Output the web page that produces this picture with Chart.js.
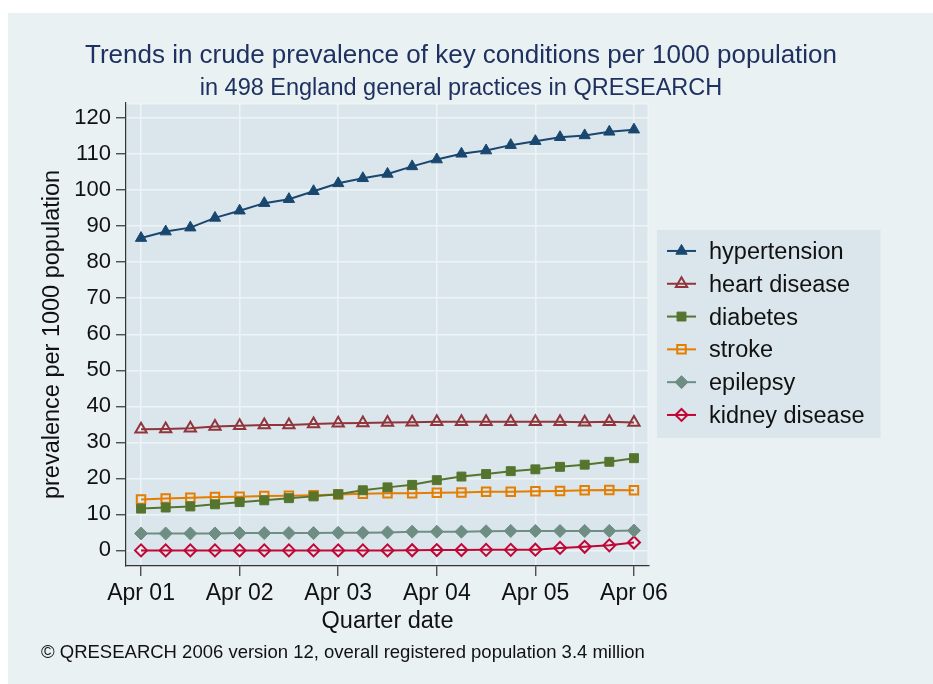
<!DOCTYPE html>
<html>
<head>
<meta charset="utf-8">
<title>Trends in crude prevalence of key conditions</title>
<script src="https://cdn.jsdelivr.net/npm/chart.js@4.4.1/dist/chart.umd.min.js"></script>
<style>
html,body{margin:0;padding:0;background:#ffffff;overflow:hidden;}
canvas{display:block;}
</style>
</head>
<body>
<canvas id="chart" width="933" height="684"></canvas>
<script>
// ---- data ----
const quarters = ['Apr 01','Jul 01','Oct 01','Jan 02','Apr 02','Jul 02','Oct 02','Jan 03','Apr 03','Jul 03','Oct 03',
                  'Jan 04','Apr 04','Jul 04','Oct 04','Jan 05','Apr 05','Jul 05','Oct 05','Jan 06','Apr 06'];
const hypertension  = [86.7,88.5,89.6,92.3,94.3,96.4,97.5,99.7,101.9,103.3,104.5,106.6,108.5,110.1,111.0,112.5,113.6,114.7,115.2,116.2,116.8];
const heartDisease  = [33.6,33.7,33.9,34.4,34.6,34.8,34.8,35.1,35.3,35.4,35.5,35.6,35.7,35.7,35.7,35.7,35.7,35.7,35.6,35.7,35.5];
const diabetes      = [11.6,11.9,12.2,12.8,13.4,13.9,14.5,15.0,15.6,16.7,17.5,18.2,19.5,20.5,21.2,22.0,22.5,23.2,23.8,24.6,25.6];
const stroke        = [14.1,14.4,14.6,14.8,14.9,15.1,15.2,15.3,15.5,15.7,15.9,15.9,16.0,16.1,16.3,16.3,16.4,16.5,16.7,16.8,16.7];
const epilepsy      = [4.7,4.7,4.7,4.7,4.8,4.8,4.8,4.8,4.9,4.9,5.0,5.2,5.2,5.2,5.3,5.4,5.4,5.4,5.4,5.4,5.5];
const kidneyDisease = [0,0,0,0,0,0,0,0,0,0,0,0.05,0.1,0.1,0.15,0.15,0.2,0.7,1.0,1.4,2.2];
const seriesNames   = ['hypertension','heart disease','diabetes','stroke','epilepsy','kidney disease'];
const seriesValues  = [hypertension, heartDisease, diabetes, stroke, epilepsy, kidneyDisease];

const titleText    = 'Trends in crude prevalence of key conditions per 1000 population';
const subtitleText = 'in 498 England general practices in QRESEARCH';
const xAxisTitle   = 'Quarter date';
const yAxisTitle   = 'prevalence per 1000 population';
const footerText   = '\u00A9 QRESEARCH 2006 version 12, overall registered population 3.4 million';

// ---- styles ----
const seriesStyles = [
  {color:'#1a476f', pointStyle:'triangle', radius:6.5, hollow:false},
  {color:'#90353b', pointStyle:'triangle', radius:6.5, hollow:true},
  {color:'#55752f', pointStyle:'rect',     radius:6.3, hollow:false},
  {color:'#e37e00', pointStyle:'rect',     radius:6.0, hollow:true},
  {color:'#6e8e84', pointStyle:'rectRot',  radius:6.5, hollow:false},
  {color:'#c10534', pointStyle:'rectRot',  radius:6.0, hollow:true}
];
const OUTER_BG = '#e9f1f3';
const PLOT_BG  = '#dae6ec';
const GRID     = '#eef4f6';
const AXIS     = '#333333';
const FONT     = '"Liberation Sans", Arial, Helvetica, sans-serif';

Chart.defaults.font.family = FONT;
Chart.defaults.color = '#111111';

const datasets = seriesValues.map((vals, i) => {
  const st = seriesStyles[i];
  return {
    label: seriesNames[i],
    data: vals.map((v, k) => ({x: k, y: v})),
    borderColor: st.color,
    backgroundColor: st.color,
    borderWidth: 2,
    pointStyle: st.pointStyle,
    pointRadius: st.radius,
    pointHoverRadius: st.radius,
    pointBackgroundColor: st.hollow ? 'rgba(0,0,0,0)' : st.color,
    pointBorderColor: st.color,
    pointBorderWidth: st.hollow ? 2 : 1,
    tension: 0,
    fill: false
  };
});

function drawMarker(ctx, st, x, y) {
  ctx.save();
  ctx.fillStyle = st.hollow ? 'rgba(0,0,0,0)' : st.color;
  ctx.strokeStyle = st.color;
  ctx.lineWidth = st.hollow ? 2 : 1;
  if (Chart.helpers && Chart.helpers.drawPoint) {
    Chart.helpers.drawPoint(ctx, {pointStyle: st.pointStyle, radius: st.radius, rotation: 0, borderWidth: ctx.lineWidth}, x, y);
  }
  ctx.restore();
}

const decor = {
  id: 'decor',
  beforeDraw(chart) {
    const ctx = chart.ctx, a = chart.chartArea;
    ctx.save();
    ctx.fillStyle = '#ffffff';
    ctx.fillRect(0, 0, chart.width, chart.height);
    ctx.fillStyle = OUTER_BG;
    ctx.fillRect(8, 13, chart.width - 8, chart.height - 13);
    ctx.fillStyle = PLOT_BG;
    ctx.fillRect(a.left, a.top, a.right - a.left, a.bottom - a.top);
    ctx.strokeStyle = GRID;
    ctx.lineWidth = 1.5;
    ctx.beginPath();
    ctx.moveTo(a.left, a.top + 0.75);
    ctx.lineTo(a.right - 0.75, a.top + 0.75);
    ctx.lineTo(a.right - 0.75, a.bottom);
    ctx.stroke();
    // legend background
    const lg = chart.legend;
    if (lg && lg.legendHitBoxes && lg.legendHitBoxes.length) {
      const hb = lg.legendHitBoxes;
      const first = hb[0], last = hb[hb.length - 1];
      let maxR = 0;
      hb.forEach(h => { maxR = Math.max(maxR, h.left + h.width); });
      const x0 = first.left - 1.3, y0 = first.top - 10.8;
      const x1 = maxR + 16, y1 = last.top + last.height + 9.8;
      ctx.fillStyle = PLOT_BG;
      ctx.fillRect(x0, y0, x1 - x0, y1 - y0);
    }
    ctx.restore();
  },
  afterDraw(chart) {
    const ctx = chart.ctx;
    const lg = chart.legend;
    if (lg && lg.legendHitBoxes) {
      lg.legendHitBoxes.forEach((h, i) => {
        const st = seriesStyles[i];
        const xs = h.left + 8.7, xe = xs + 29, cy = h.top + h.height / 2 - 1.5;
        ctx.save();
        ctx.strokeStyle = st.color;
        ctx.lineWidth = 2;
        ctx.beginPath();
        ctx.moveTo(xs, cy);
        ctx.lineTo(xe, cy);
        ctx.stroke();
        ctx.restore();
        drawMarker(ctx, st, (xs + xe) / 2, cy);
      });
    }
    ctx.save();
    ctx.font = '18.5px ' + FONT;
    ctx.fillStyle = '#111111';
    ctx.textAlign = 'left';
    ctx.textBaseline = 'alphabetic';
    ctx.fillText(footerText, 41, 658);
    ctx.restore();
  }
};

new Chart(document.getElementById('chart').getContext('2d'), {
  type: 'line',
  data: {datasets},
  options: {
    responsive: false,
    animation: false,
    devicePixelRatio: 1,
    events: [],
    layout: {padding: {top: 0, left: 8, right: 19, bottom: 48}},
    plugins: {
      title: {
        display: true, text: titleText, color: '#1f3160',
        font: {size: 26, weight: 'normal'}, padding: {top: 39.9, bottom: 0}
      },
      subtitle: {
        display: true, text: subtitleText, color: '#1f3160',
        font: {size: 23.5, weight: 'normal'}, padding: {top: 3.2, bottom: 0.5}
      },
      legend: {
        position: 'right', fullSize: false, maxWidth: 400,
        labels: {
          boxWidth: 39, boxHeight: 12, padding: 9.3,
          font: {size: 23.5}, color: '#111111',
          generateLabels: (chart) => chart.data.datasets.map((ds, i) => ({
            text: ds.label, fillStyle: 'rgba(0,0,0,0)', strokeStyle: 'rgba(0,0,0,0)',
            lineWidth: 0, hidden: false, datasetIndex: i, fontColor: '#111111'
          }))
        }
      },
      tooltip: {enabled: false}
    },
    scales: {
      x: {
        type: 'linear', min: -0.61, max: 20.61,
        grid: {color: GRID, lineWidth: 1.5, tickColor: AXIS, tickLength: 10, tickWidth: 1.2},
        border: {display: true, color: AXIS, width: 1.2},
        ticks: {
          stepSize: 4, includeBounds: false, autoSkip: false, maxRotation: 0, padding: 4,
          font: {size: 23}, color: '#111111',
          callback: (v) => quarters[v] !== undefined ? quarters[v] : ''
        },
        title: {display: true, text: xAxisTitle, font: {size: 23.5}, color: '#111111', padding: {top: -3.7, bottom: 0}}
      },
      y: {
        type: 'linear', min: -4.3, max: 124.2,
        grid: {color: GRID, lineWidth: 1.5, tickColor: AXIS, tickLength: 10, tickWidth: 1.2},
        border: {display: true, color: AXIS, width: 1.2},
        ticks: {stepSize: 10, includeBounds: false, padding: 5, font: {size: 22}, color: '#111111'},
        title: {display: true, text: yAxisTitle, font: {size: 23.5}, color: '#111111', padding: {top: 30.4, bottom: 2.7}}
      },
      pad: {
        type: 'linear', position: 'right', weight: 3000, display: true,
        grid: {display: false, drawTicks: false}, border: {display: false}, ticks: {display: false},
        afterFit: (s) => {
          const lg = s.chart.legend;
          const lw = lg && lg.width ? lg.width : 225;
          s.width = Math.max(0, 265 - lw);
        }
      }
    }
  },
  plugins: [decor]
});
</script>
</body>
</html>
